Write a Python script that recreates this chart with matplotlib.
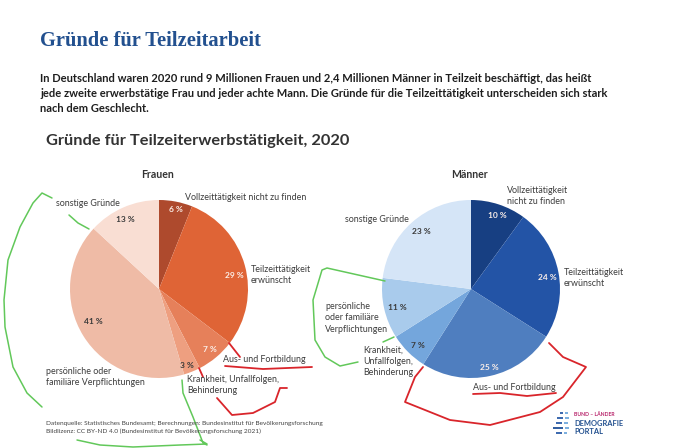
import matplotlib
matplotlib.use('Agg')
import matplotlib.pyplot as plt

# Daten
frauen = [6, 29, 7, 3, 41, 13]
maenner = [10, 24, 25, 7, 11, 23]
farben_f = ['#AE4A2D', '#DF6436', '#E6805A', '#EE9F80', '#EFBBA6', '#F9DED3']
farben_m = ['#173F82', '#2354A6', '#4F7EBF', '#74A6DC', '#A9CBEC', '#D5E5F7']

titel = 'Gründe für Teilzeitarbeit'
absatz = ['In Deutschland waren 2020 rund 9 Millionen Frauen und 2,4 Millionen Männer in Teilzeit beschäftigt, das heißt',
          'jede zweite erwerbstätige Frau und jeder achte Mann. Die Gründe für die Teilzeittätigkeit unterscheiden sich stark',
          'nach dem Geschlecht.']
untertitel = 'Gründe für Teilzeiterwerbstätigkeit, 2020'
quelle = ['Datenquelle: Statistisches Bundesamt; Berechnungen: Bundesinstitut für Bevölkerungsforschung',
          'Bildlizenz: CC BY-ND 4.0 (Bundesinstitut für Bevölkerungsforschung 2021)']

# Handgezeichnete Markierungen (Pixel im Bild)
gruen = [
    [(42, 407), (27, 393), (13, 367), (5, 327), (4, 300), (8, 260), (20, 227), (33, 203), (42, 193), (52, 198)],
    [(69, 215), (78, 223), (89, 229)],
    [(182, 380), (183, 393), (193, 417), (203, 443), (207, 445)],
    [(77, 440), (100, 445), (133, 447), (180, 445), (207, 444), (200, 440)],
    [(385, 281), (327, 268), (322, 270), (313, 300), (315, 340), (325, 357), (340, 366), (358, 362)],
    [(383, 342), (394, 337)],
]
rot = [
    [(229, 343), (240, 357)],
    [(225, 366), (263, 369), (312, 367)],
    [(199, 368), (203, 377)],
    [(217, 398), (232, 415), (253, 413), (275, 402), (280, 388), (287, 388)],
    [(549, 343), (563, 357), (586, 367), (563, 397), (540, 412), (490, 425), (450, 420), (405, 402), (415, 377), (423, 367)],
    [(473, 394), (500, 393), (527, 396), (556, 393)],
]

B, H = 680, 448
fig = plt.figure(figsize=(B / 100, H / 100), dpi=100, facecolor='white')

# Overlay in Pixelkoordinaten
ov = fig.add_axes([0, 0, 1, 1], zorder=5)
ov.set_xlim(0, B)
ov.set_ylim(H, 0)
ov.axis('off')
ov.patch.set_alpha(0)


def kuchen(werte, farben, cx, cy, r):
    ax = fig.add_axes([(cx - r) / B, 1 - (cy + r) / H, 2 * r / B, 2 * r / H])
    ax.pie(werte, colors=farben, startangle=90, counterclock=False, radius=1)
    ax.set_xlim(-1, 1)
    ax.set_ylim(-1, 1)


kuchen(frauen, farben_f, 159, 289, 89)
kuchen(maenner, farben_m, 471, 289, 89)

sans = 'Lato'
grau = '#3C3C3C'


def txt(x, y, s, size=6.4, color=grau, **kw):
    kw.setdefault('family', sans)
    ov.text(x, y, s, fontsize=size, color=color, va='center', linespacing=1.3, **kw)


# Kopf
txt(40, 41, titel, size=14.8, color='#22508F', family='Liberation Serif', fontweight='bold')
for i, zeile in enumerate(absatz):
    txt(40, 78 + i * 15.2, zeile, size=8.0, color='#1E1E1E', fontweight='bold')
txt(46, 141, untertitel, size=11.8, color='#333333', fontweight='bold')
txt(158, 174, 'Frauen', size=7.6, color='#333333', ha='center', fontweight='bold')
txt(470, 174, 'Männer', size=7.6, color='#333333', ha='center', fontweight='bold')

# Beschriftung Frauen
txt(185, 197, 'Vollzeittätigkeit nicht zu finden')
txt(251, 275, 'Teilzeittätigkeit\nerwünscht')
txt(223, 359, 'Aus- und Fortbildung')
txt(187, 385, 'Krankheit, Unfallfolgen,\nBehinderung')
txt(46, 377, 'persönliche oder\nfamiliäre Verpflichtungen')
txt(56, 203, 'sonstige Gründe')

# Beschriftung Maenner
txt(507, 196, 'Vollzeittätigkeit\nnicht zu finden')
txt(564, 278, 'Teilzeittätigkeit\nerwünscht')
txt(473, 387, 'Aus- und Fortbildung')
txt(363, 361, 'Krankheit,\nUnfallfolgen,\nBehinderung')
txt(325, 318, 'persönliche\noder familiäre\nVerpflichtungen')
txt(345, 219, 'sonstige Gründe')

# Prozentwerte
hell = '#FBEFE9'
dunkel = '#3A3A3A'
for x, y, w, c in [(176, 210, frauen[0], hell), (234, 276, frauen[1], hell), (210, 350, frauen[2], hell),
                   (187, 365, frauen[3], dunkel), (93, 322, frauen[4], dunkel), (125, 219, frauen[5], dunkel),
                   (497, 215, maenner[0], hell), (547, 278, maenner[1], hell), (489, 367, maenner[2], hell),
                   (418, 346, maenner[3], dunkel), (397, 307, maenner[4], dunkel), (421, 231, maenner[5], dunkel)]:
    ov.text(x, y, f'{w} %', fontsize=6.0, color=c, ha='center', va='center', family=sans, fontweight='bold')

# Quelle
for i, zeile in enumerate(quelle):
    txt(46, 423 + i * 8.5, zeile, size=4.67, color='#444444')

# Logo
for y, x0, x1, c in [(413, 560, 563, '#2B5CA8'), (413, 565, 568, '#6FA8DC'), (418, 557, 563, '#2B5CA8'),
                     (418, 565, 569, '#6FA8DC'), (423, 556, 562, '#2B5CA8'), (423, 564, 568, '#6FA8DC'),
                     (428, 553, 563, '#1F4E96'), (428, 565, 569, '#6FA8DC'), (433, 556, 562, '#2B5CA8'),
                     (433, 564, 567, '#6FA8DC')]:
    ov.plot([x0, x1], [y, y], color=c, lw=1.3, solid_capstyle='butt')
txt(574, 414, 'BUND – LÄNDER', size=3.7, color='#B8246B', fontweight='bold')
txt(574, 423, 'DEMOGRAFIE', size=5.4, color='#22508F', fontweight='bold')
txt(574, 432, 'PORTAL', size=5.4, color='#22508F', fontweight='bold')

# Markierungen
for linie in gruen:
    ov.plot([p[0] for p in linie], [p[1] for p in linie], color='#62C85A', lw=1.1, solid_capstyle='round')
for linie in rot:
    ov.plot([p[0] for p in linie], [p[1] for p in linie], color='#D9252B', lw=1.3, solid_capstyle='round')

fig.savefig('out.png', dpi=100, facecolor='white')
